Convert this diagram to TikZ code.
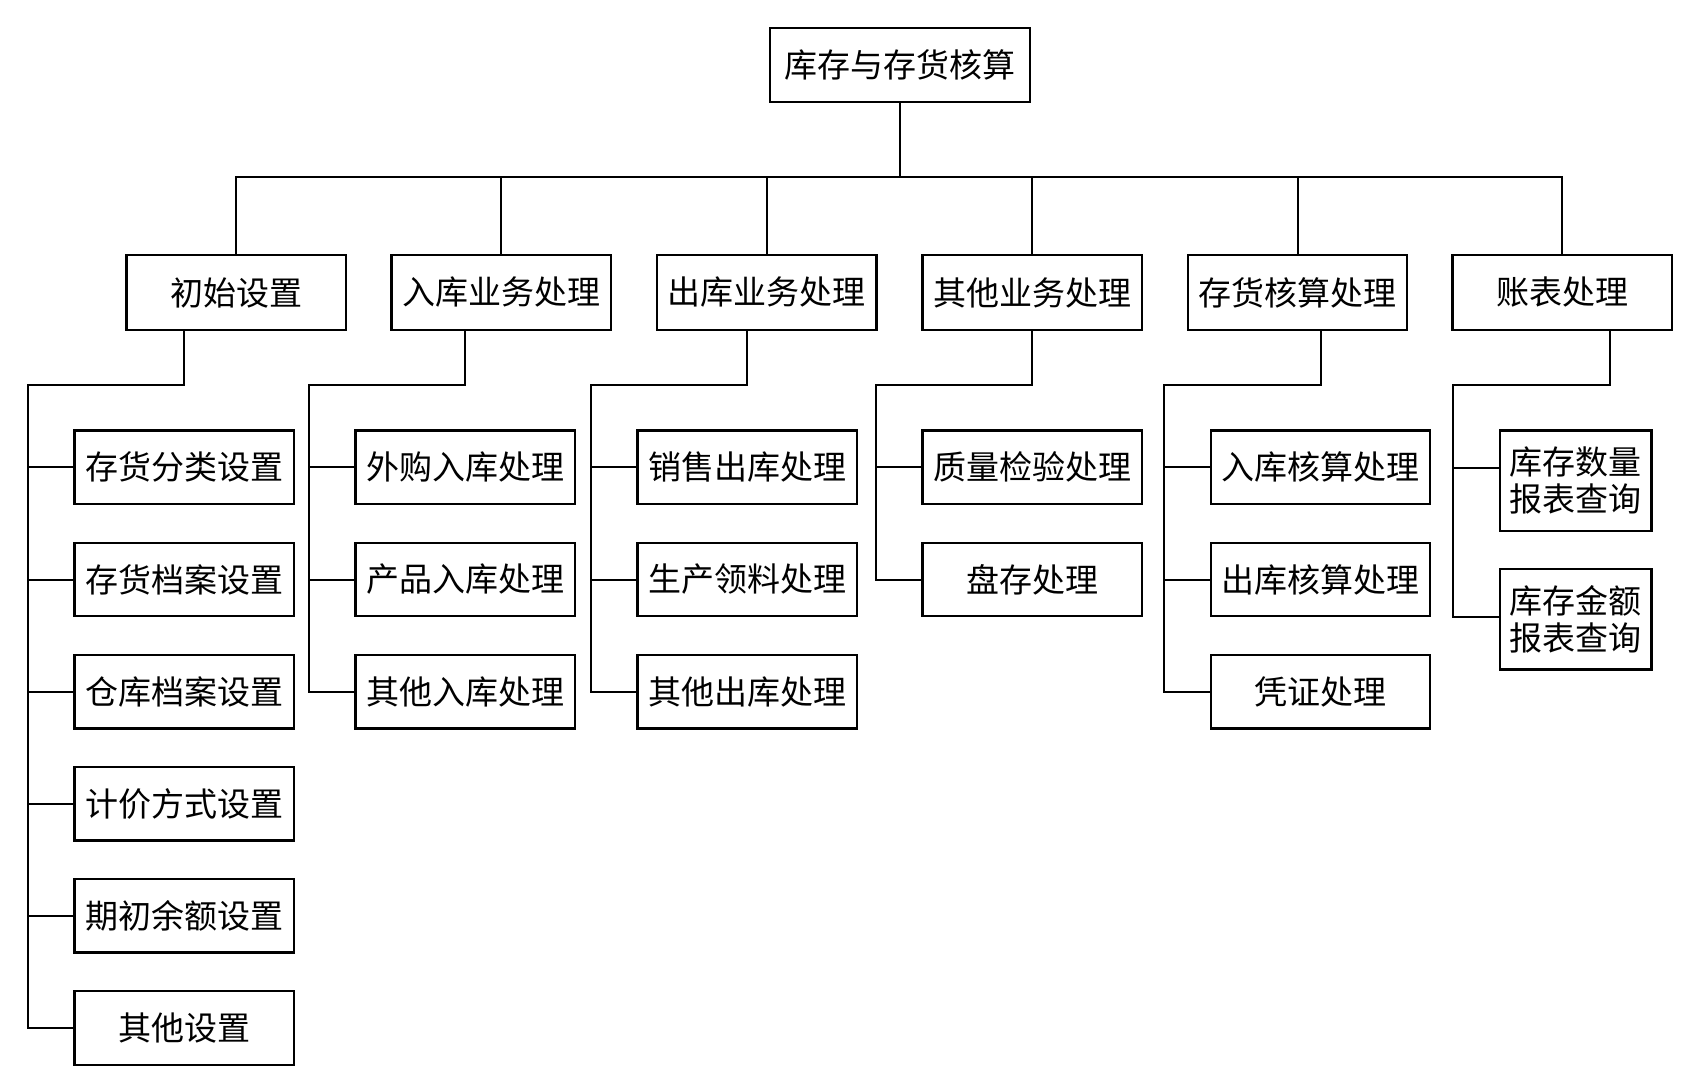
\documentclass[tikz,border=0pt]{standalone}
\usepackage{fontspec}
\newfontfamily\cjk{Noto Sans CJK SC}
\tikzset{
  box/.style={draw, line width=2.4pt, inner sep=0pt, align=center,
    minimum width=219.5pt, minimum height=73.5pt,
    font={\cjk\fontsize{33}{37}\selectfont}},
  tallbox/.style={box, minimum width=151.5pt, minimum height=100.5pt},
  link/.style={line width=2pt}
}
\begin{document}
\begin{tikzpicture}[x=1pt,y=-1pt]
  \useasboundingbox (0,0) rectangle (1696,1079);
  % root and first level
  \node[box, minimum width=260pt, minimum height=74pt] (root) at (900,65) {库存与存货核算};
  \node[box, minimum height=75pt] (cs) at (236.3,292.5) {初始设置};
  \node[box, minimum height=75pt] (rk) at (501.3,292.5) {入库业务处理};
  \node[box, minimum height=75pt] (ck) at (766.8,292.5) {出库业务处理};
  \node[box, minimum height=75pt] (qt) at (1032.3,292.5) {其他业务处理};
  \node[box, minimum height=75pt] (ch) at (1297.5,292.5) {存货核算处理};
  \node[box, minimum height=75pt] (zb) at (1562.3,292.5) {账表处理};
  \coordinate (bus) at (900,177);
  \draw[link] (root.south) -- (root.south |- bus);
  \draw[link] (cs.north) -- (cs.north |- bus) -- (zb.north |- bus) -- (zb.north);
  \draw[link] (rk.north) -- (rk.north |- bus);
  \draw[link] (ck.north) -- (ck.north |- bus);
  \draw[link] (qt.north) -- (qt.north |- bus);
  \draw[link] (ch.north) -- (ch.north |- bus);
  % 初始设置
  \node[box] (cs1) at (184.4,467.3) {存货分类设置};
  \node[box] (cs2) at (184.4,579.5) {存货档案设置};
  \node[box] (cs3) at (184.4,691.6) {仓库档案设置};
  \node[box] (cs4) at (184.4,803.8) {计价方式设置};
  \node[box] (cs5) at (184.4,915.9) {期初余额设置};
  \node[box] (cs6) at (184.4,1028) {其他设置};
  \coordinate (tcs) at (28,385);
  \draw[link] (cs1.north |- cs.south) |- (tcs) |- (cs6.west);
  \draw[link] (tcs |- cs1) -- (cs1.west);
  \draw[link] (tcs |- cs2) -- (cs2.west);
  \draw[link] (tcs |- cs3) -- (cs3.west);
  \draw[link] (tcs |- cs4) -- (cs4.west);
  \draw[link] (tcs |- cs5) -- (cs5.west);
  % 入库业务处理
  \node[box] (rk1) at (465.2,467.3) {外购入库处理};
  \node[box] (rk2) at (465.2,579.5) {产品入库处理};
  \node[box] (rk3) at (465.2,691.6) {其他入库处理};
  \coordinate (trk) at (309,385);
  \draw[link] (rk1.north |- rk.south) |- (trk) |- (rk3.west);
  \draw[link] (trk |- rk1) -- (rk1.west);
  \draw[link] (trk |- rk2) -- (rk2.west);
  % 出库业务处理
  \node[box] (ck1) at (747.3,467.3) {销售出库处理};
  \node[box] (ck2) at (747.3,579.5) {生产领料处理};
  \node[box] (ck3) at (747.3,691.6) {其他出库处理};
  \coordinate (tck) at (590.5,385);
  \draw[link] (ck1.north |- ck.south) |- (tck) |- (ck3.west);
  \draw[link] (tck |- ck1) -- (ck1.west);
  \draw[link] (tck |- ck2) -- (ck2.west);
  % 其他业务处理
  \node[box] (qt1) at (1032.3,467.3) {质量检验处理};
  \node[box] (qt2) at (1032.3,579.5) {盘存处理};
  \coordinate (tqt) at (876,385);
  \draw[link] (qt1.north |- qt.south) |- (tqt) |- (qt2.west);
  \draw[link] (tqt |- qt1) -- (qt1.west);
  % 存货核算处理
  \node[box] (ch1) at (1320.5,467.3) {入库核算处理};
  \node[box] (ch2) at (1320.5,579.5) {出库核算处理};
  \node[box] (ch3) at (1320.5,691.6) {凭证处理};
  \coordinate (tch) at (1164,385);
  \draw[link] (ch1.north |- ch.south) |- (tch) |- (ch3.west);
  \draw[link] (tch |- ch1) -- (ch1.west);
  \draw[link] (tch |- ch2) -- (ch2.west);
  % 账表处理
  \node[tallbox] (zb1) at (1575.8,480.7) {库存数量\\报表查询};
  \node[tallbox] (zb2) at (1575.8,619.3) {库存金额\\报表查询};
  \coordinate (tzb) at (1452.6,385);
  \coordinate (szb) at (1609.5,385);
  \draw[link] (szb |- zb.south) -- (szb) -- (tzb) |- ([yshift=2.6pt]zb2.west);
  \draw[link] (tzb |- 0,468) -- ([yshift=12.7pt]zb1.west);
\end{tikzpicture}
\end{document}
